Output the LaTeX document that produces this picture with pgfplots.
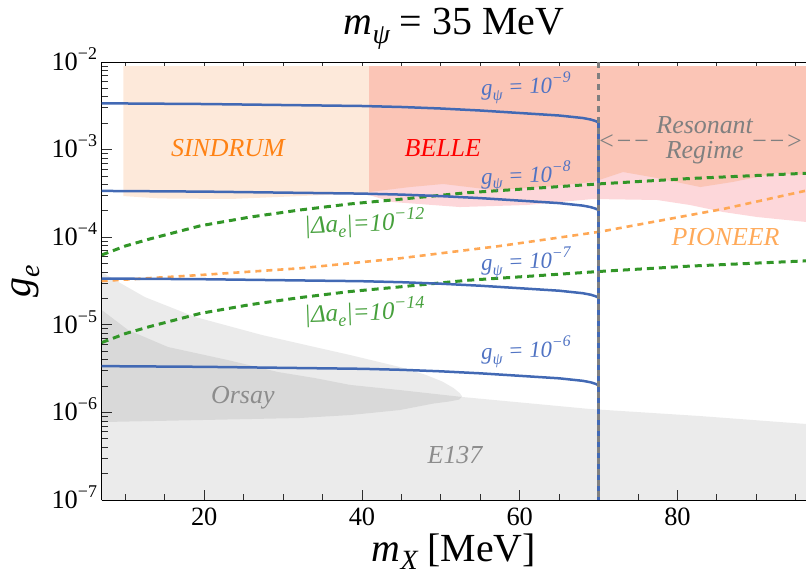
\documentclass[border=0pt]{standalone}
\usepackage{fontspec}
\setmainfont{Liberation Serif}
\usepackage{pgfplots}
\pgfplotsset{compat=1.18}
\definecolor{sindrum}{RGB}{253,233,218}
\definecolor{belle}{RGB}{251,197,182}
\definecolor{pinkreg}{RGB}{253,215,218}
\definecolor{bline}{RGB}{66,105,180}
\definecolor{btext}{RGB}{80,115,195}
\definecolor{gline}{RGB}{50,150,40}
\definecolor{gtext}{RGB}{70,160,60}
\definecolor{oline}{RGB}{255,168,85}
\definecolor{otext}{RGB}{255,130,20}
\definecolor{ptext}{RGB}{255,170,90}
\definecolor{vgray}{RGB}{128,128,128}
\definecolor{rtext}{RGB}{128,128,128}
\definecolor{grtext}{RGB}{140,140,140}
\newcommand{\tsup}[2]{\raisebox{0.42em}{\fontsize{#1}{#1}\selectfont #2}}
\newcommand{\tsub}[2]{\raisebox{-0.22em}{\fontsize{#1}{#1}\selectfont #2}}
\begin{document}
\begin{tikzpicture}
\begin{axis}[
  name=ax,
  scale only axis, width=704.3bp, height=438bp,
  ymode=log, xmin=7, xmax=96.3, ymin=1e-7, ymax=1e-2,
  axis y line*=left,
  axis line style={line width=0.9bp, black},
  xtick={20,40,60,80}, xticklabels={20,40,60,80},
  minor xtick={10,15,25,30,35,45,50,55,65,70,75,85,90,95},
  ytick={1e-7,1e-6,1e-5,1e-4,1e-3,1e-2},
  yticklabels={10\tsup{18}{−7},10\tsup{18}{−6},10\tsup{18}{−5},10\tsup{18}{−4},10\tsup{18}{−3},10\tsup{18}{−2}},
  minor ytick={2e-7,3e-7,4e-7,5e-7,6e-7,7e-7,8e-7,9e-7,2e-6,3e-6,4e-6,5e-6,6e-6,7e-6,8e-6,9e-6,2e-5,3e-5,4e-5,5e-5,6e-5,7e-5,8e-5,9e-5,2e-4,3e-4,4e-4,5e-4,6e-4,7e-4,8e-4,9e-4,2e-3,3e-3,4e-3,5e-3,6e-3,7e-3,8e-3,9e-3},
  major tick length=10bp, minor tick length=6bp,
  tick style={line width=0.8bp, black!80},
  tick label style={font=\fontsize{26.5}{26.5}\selectfont},
  yticklabel style={inner sep=0pt, xshift=-4.5bp, yshift=3bp},
  xticklabel style={inner sep=0pt, yshift=-8bp},
]
% SINDRUM
\addplot[fill=sindrum, draw=none] coordinates {(9.74,9.0e-3) (40.9,9.0e-3) (40.9,3.20e-4) (32.2,2.95e-4) (23.3,2.73e-4) (14.4,2.77e-4) (9.74,2.95e-4)} -- cycle;
% pink region
\addplot[fill=pinkreg, draw=none] coordinates {(40.9,9.0e-3) (96.3,9.0e-3) (96.3,1.493e-4) (90.1,1.70e-4) (85.8,1.94e-4) (81.6,2.33e-4) (77.4,2.66e-4) (69.3,2.73e-4) (60.9,2.33e-4) (52.4,2.21e-4) (43.9,2.52e-4) (40.9,3.03e-4)} -- cycle;
% BELLE
\addplot[fill=belle, draw=none] coordinates {(40.9,9.0e-3) (96.3,9.0e-3) (96.3,5.13e-4) (92.6,5.41e-4) (87.0,4.27e-4) (82.9,3.74e-4) (77.4,4.74e-4) (73.1,5.55e-4) (69.3,4.27e-4) (63.0,3.74e-4) (56.6,3.46e-4) (50.3,4.05e-4) (46.1,3.74e-4) (40.9,3.28e-4)} -- cycle;
% E137
\addplot[fill=black, fill opacity=0.08, draw=none] coordinates {(7.0,1.476e-5) (10.34,8.73e-6) (15.4,5.58e-6) (23.0,3.96e-6) (29.36,2.89e-6) (34.0,2.47e-6) (38.5,2.06e-6) (44.8,1.80e-6) (52.7,1.50e-6) (68.9,1.094e-6) (82.8,9.10e-7) (96.3,7.38e-7) (96.3,1e-7) (7.0,1e-7)} -- cycle;
% Orsay
\addplot[fill=black, fill opacity=0.08, draw=none] coordinates {(7.0,4.01e-5) (8.69,3.24e-5) (12.49,2.07e-5) (18.83,1.23e-5) (27.3,7.66e-6) (34.0,5.58e-6) (38.5,4.52e-6) (44.8,3.30e-6) (48.0,2.70e-6) (50.2,2.25e-6) (51.6,1.90e-6) (52.4,1.66e-6) (52.7,1.52e-6) (52.3,1.40e-6) (51.0,1.33e-6) (49.0,1.26e-6) (44.8,1.064e-6) (38.5,9.33e-7) (32.1,8.63e-7) (19.5,8.18e-7) (7.0,7.76e-7)} -- cycle;
% PIONEER projection (orange dashed)
\addplot[color=oline, line width=2.6bp, dash pattern=on 6bp off 5bp] coordinates {(7.0,3.16e-5) (19.48,3.70e-5) (32.15,4.42e-5) (44.8,5.74e-5) (57.5,7.94e-5) (70.2,1.156e-4) (81.6,1.79e-4) (85.8,2.10e-4) (96.3,3.40e-4)};
% Delta a_e = 1e-12
\addplot[color=gline, line width=3bp, dash pattern=on 7bp off 5bp] coordinates {(7.0,6.27e-5) (10.0,7.94e-5) (13.1,9.55e-5) (19.5,1.349e-4) (25.8,1.698e-4) (32.15,2.046e-4) (38.5,2.399e-4) (44.8,2.71e-4) (53.3,3.22e-4) (61.7,3.61e-4) (70.2,4.07e-4) (81.6,4.68e-4) (96.3,5.37e-4)};
% Delta a_e = 1e-14
\addplot[color=gline, line width=3bp, dash pattern=on 7bp off 5bp] coordinates {(7.0,6.27e-6) (10.0,7.94e-6) (13.1,9.55e-6) (19.5,1.349e-5) (25.8,1.698e-5) (32.15,2.046e-5) (38.5,2.399e-5) (44.8,2.71e-5) (53.3,3.22e-5) (61.7,3.61e-5) (70.2,4.07e-5) (81.6,4.68e-5) (96.3,5.37e-5)};
% g_psi curves
\addplot[color=bline, line width=2.5bp] coordinates {(7,3.376e-3) (20,3.314e-3) (30,3.228e-3) (40,3.146e-3) (45,3.065e-3) (50,2.945e-3) (55,2.794e-3) (60,2.617e-3) (65,2.450e-3) (68,2.294e-3) (69,2.206e-3) (69.6,2.121e-3) (70,2.039e-3)};
\addplot[color=bline, line width=2.5bp] coordinates {(7,3.376e-4) (20,3.314e-4) (30,3.228e-4) (40,3.146e-4) (45,3.065e-4) (50,2.945e-4) (55,2.794e-4) (60,2.617e-4) (65,2.450e-4) (68,2.294e-4) (69,2.206e-4) (69.6,2.121e-4) (70,2.039e-4)};
\addplot[color=bline, line width=2.5bp] coordinates {(7,3.376e-5) (20,3.314e-5) (30,3.228e-5) (40,3.146e-5) (45,3.065e-5) (50,2.945e-5) (55,2.794e-5) (60,2.617e-5) (65,2.450e-5) (68,2.294e-5) (69,2.206e-5) (69.6,2.121e-5) (70,2.039e-5)};
\addplot[color=bline, line width=2.5bp] coordinates {(7,3.376e-6) (20,3.314e-6) (30,3.228e-6) (40,3.146e-6) (45,3.065e-6) (50,2.945e-6) (55,2.794e-6) (60,2.617e-6) (65,2.450e-6) (68,2.294e-6) (69,2.206e-6) (69.6,2.121e-6) (70,2.039e-6)};
\addplot[color=bline, line width=2.5bp] coordinates {(70,2.039e-3) (70,1e-7)};
% resonance line
\addplot[color=vgray, line width=3bp, dash pattern=on 6bp off 5bp] coordinates {(70,1e-2) (70,1e-7)};
% labels
\node[text=otext, font=\fontsize{26}{26}\selectfont\itshape] at (axis cs:23.0,1.04e-3) {SINDRUM};
\node[text=red, font=\fontsize{26}{26}\selectfont\itshape] at (axis cs:50.25,1.04e-3) {BELLE};
\node[inner sep=0pt, text=rtext, font=\fontsize{26}{26}\selectfont\itshape] at (axis cs:83.45,1.88e-3) {Resonant};
\node[inner sep=0pt, text=rtext, font=\fontsize{26}{26}\selectfont\itshape] at (axis cs:83.45,9.2e-4) {Regime};
\node[inner sep=0pt, text=rtext, font=\fontsize{26}{26}\selectfont\itshape] at (axis cs:73.2,1.23e-3) {<−−};
\node[inner sep=0pt, text=rtext, font=\fontsize{26}{26}\selectfont\itshape] at (axis cs:92.6,1.23e-3) {−−>};
\node[text=ptext, font=\fontsize{26}{26}\selectfont\itshape] at (axis cs:86.1,1.0e-4) {PIONEER};
\node[text=grtext, font=\fontsize{26}{26}\selectfont\itshape] at (axis cs:24.9,1.46e-6) {Orsay};
\node[text=grtext, font=\fontsize{26}{26}\selectfont\itshape] at (axis cs:51.8,3.27e-7) {E137};
\node[text=btext, rotate=2, font=\fontsize{23}{23}\selectfont\itshape] at (axis cs:60.8,5.05e-3) {g\tsub{16}{ψ} = 10\tsup{16}{−9}};
\node[text=btext, rotate=2, font=\fontsize{23}{23}\selectfont\itshape] at (axis cs:60.8,4.9e-4) {g\tsub{16}{ψ} = 10\tsup{16}{−8}};
\node[text=btext, rotate=2, font=\fontsize{23}{23}\selectfont\itshape] at (axis cs:60.8,5.07e-5) {g\tsub{16}{ψ} = 10\tsup{16}{−7}};
\node[text=btext, rotate=2, font=\fontsize{23}{23}\selectfont\itshape] at (axis cs:60.8,4.9e-6) {g\tsub{16}{ψ} = 10\tsup{16}{−6}};
\node[text=gtext, rotate=2, font=\fontsize{25}{25}\selectfont\itshape] at (axis cs:40.3,1.45e-4) {|Δa\tsub{18}{e}|=10\tsup{18}{−12}};
\node[text=gtext, rotate=2, font=\fontsize{25}{25}\selectfont\itshape] at (axis cs:40.3,1.40e-5) {|Δa\tsub{18}{e}|=10\tsup{18}{−14}};
\end{axis}
\node[inner sep=0pt, anchor=base, font=\fontsize{40}{40}\selectfont] at ([yshift=27bp]ax.north) {\itshape m\tsub{28}{ψ}\upshape{} = 35 MeV};
\node[inner sep=0pt, anchor=base, font=\fontsize{40}{40}\selectfont] at ([yshift=-61bp]ax.south) {\itshape m\tsub{28}{X}\upshape{} [MeV]};
\node[inner sep=0pt, anchor=base, rotate=90, font=\fontsize{40}{40}\selectfont] at ([xshift=-70.7bp]ax.west) {\itshape g\tsub{28}{e}};
\pgfresetboundingbox
\path[use as bounding box] ([xshift=-101.7bp, yshift=-75bp]ax.south west) rectangle ([yshift=62bp]ax.north east);
\end{tikzpicture}
\end{document}
